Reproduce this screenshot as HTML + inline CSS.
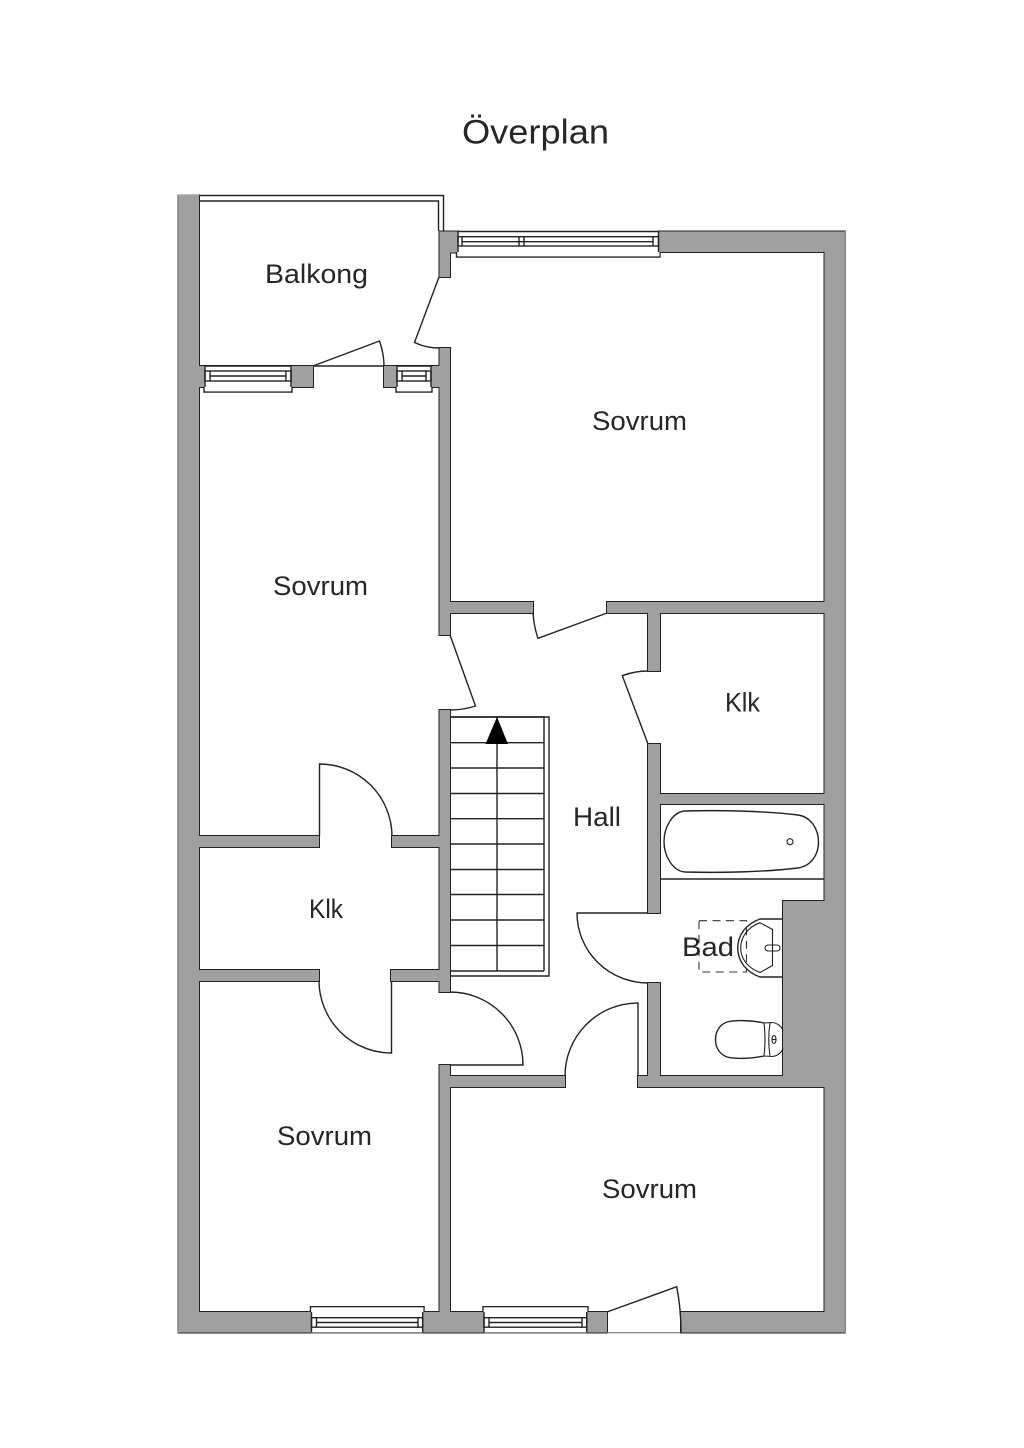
<!DOCTYPE html>
<html lang="sv">
<head>
<meta charset="utf-8">
<title>Överplan</title>
<style>
html,body{margin:0;padding:0;background:#fff;}
svg{display:block;}
text{font-family:"Liberation Sans",sans-serif;fill:#262626;font-size:27px;}
.l{fill:none;stroke:#222;stroke-width:1.4;}
.f{fill:#fff;stroke:#222;stroke-width:1.4;}
.t{fill:none;stroke:#222;stroke-width:1.1;}
</style>
</head>
<body>
<svg xmlns="http://www.w3.org/2000/svg" width="1024" height="1448" viewBox="0 0 1024 1448">
<defs>
<g id="walls">
<rect x="178.5" y="195.5" width="20.5" height="1137"/>
<rect x="178.5" y="1312" width="428.5" height="20.5"/>
<rect x="681" y="1312" width="164" height="20.5"/>
<rect x="824.5" y="231.5" width="20.5" height="1101"/>
<rect x="659" y="231.5" width="186" height="20.5"/>
<polygon points="439.5,231.5 458,231.5 458,252.5 450,252.5 450,277 439.5,277"/>
<rect x="439.5" y="348" width="10.5" height="287"/>
<rect x="439.5" y="710" width="10.5" height="282"/>
<rect x="439.5" y="1065" width="10.5" height="267.5"/>
<rect x="199" y="366" width="114" height="21"/>
<rect x="384" y="366" width="55.5" height="21"/>
<rect x="450" y="602" width="83" height="11"/>
<rect x="607" y="602" width="217.5" height="11"/>
<rect x="648" y="602" width="12" height="69"/>
<rect x="648" y="744" width="12" height="169"/>
<rect x="648" y="983" width="12" height="104"/>
<rect x="660" y="794" width="164.5" height="10"/>
<rect x="783" y="901" width="41.5" height="186"/>
<rect x="450" y="1076" width="115" height="11"/>
<rect x="638" y="1076" width="186.5" height="11"/>
<rect x="199" y="836" width="120" height="11"/>
<rect x="392" y="836" width="47.5" height="11"/>
<rect x="199" y="970" width="120" height="11"/>
<rect x="391" y="970" width="48.5" height="11"/>
</g>
</defs>

<rect width="1024" height="1448" fill="#fff"/>

<!-- balcony rail -->
<polyline class="l" points="199,195.5 443.5,195.5 443.5,231"/>
<polyline class="l" points="199,201 438.5,201 438.5,231"/>

<!-- wall outlines then fills -->
<use href="#walls" fill="#222" stroke="#222" stroke-width="2" stroke-linejoin="miter"/>
<use href="#walls" fill="#a0a0a0" stroke="none"/>

<!-- softer outer edges -->
<line x1="178" y1="194.5" x2="178" y2="1333" stroke="#858585" stroke-width="1.6"/>
<line x1="845.3" y1="231" x2="845.3" y2="1333.5" stroke="#858585" stroke-width="1.4"/>
<line x1="177.5" y1="195" x2="199" y2="195" stroke="#a8a8a8" stroke-width="1.6"/>

<!-- balcony threshold -->
<line class="l" x1="313" y1="366" x2="384" y2="366"/>

<!-- top window -->
<rect x="458" y="231.5" width="201" height="20.5" fill="#fff"/>
<polyline class="f" points="456.5,252 456.5,257 660,257 660,252" />
<rect x="457.5" y="252" width="202" height="4.3" fill="#fff"/>
<line class="l" x1="458" y1="231.5" x2="659" y2="231.5"/>
<line class="l" x1="458" y1="231.5" x2="458" y2="252"/>
<line class="l" x1="658.5" y1="231.5" x2="658.5" y2="252"/>
<rect class="l" x="458" y="236.7" width="200.5" height="9.3"/>
<line class="l" x1="462" y1="241.7" x2="653" y2="241.7"/>
<line class="l" x1="462" y1="236.7" x2="462" y2="246"/>
<line class="l" x1="653" y1="236.7" x2="653" y2="246"/>
<line class="l" x1="519" y1="236.7" x2="519" y2="246"/>
<line class="l" x1="524" y1="236.7" x2="524" y2="246"/>

<!-- balcony windows -->
<g>
<rect x="205" y="366" width="86" height="21" fill="#fff"/>
<polyline class="f" points="204,387 204,392 292,392 292,387"/>
<rect x="205" y="386" width="86" height="5.3" fill="#fff"/>
<line class="l" x1="205" y1="366" x2="291" y2="366"/>
<line class="l" x1="205" y1="366" x2="205" y2="387"/>
<line class="l" x1="291" y1="366" x2="291" y2="387"/>
<rect class="l" x="205" y="371" width="86" height="10"/>
<line class="l" x1="210" y1="376" x2="286" y2="376"/>
<line class="l" x1="210" y1="371" x2="210" y2="381"/>
<line class="l" x1="286" y1="371" x2="286" y2="381"/>
</g>
<g>
<rect x="397" y="366" width="34" height="21" fill="#fff"/>
<polyline class="f" points="396,387 396,392 432,392 432,387"/>
<rect x="397" y="386" width="34" height="5.3" fill="#fff"/>
<line class="l" x1="397" y1="366" x2="431" y2="366"/>
<line class="l" x1="397" y1="366" x2="397" y2="387"/>
<line class="l" x1="431" y1="366" x2="431" y2="387"/>
<rect class="l" x="397" y="371" width="34" height="10"/>
<line class="l" x1="402" y1="376" x2="426" y2="376"/>
<line class="l" x1="402" y1="371" x2="402" y2="381"/>
<line class="l" x1="426" y1="371" x2="426" y2="381"/>
</g>

<!-- bottom windows -->
<g>
<rect x="311.5" y="1312" width="111" height="20.5" fill="#fff"/>
<polyline class="f" points="310.5,1312 310.5,1306.7 424,1306.7 424,1312"/>
<rect x="311.3" y="1307.4" width="112" height="5.6" fill="#fff"/>
<line class="l" x1="311.5" y1="1312" x2="311.5" y2="1332.5"/>
<line class="l" x1="422.7" y1="1312" x2="422.7" y2="1332.5"/>
<rect class="l" x="311.5" y="1317.7" width="111.2" height="9.5"/>
<line class="l" x1="316.5" y1="1322.5" x2="418" y2="1322.5"/>
<line class="l" x1="316.5" y1="1317.7" x2="316.5" y2="1327.2"/>
<line class="l" x1="418" y1="1317.7" x2="418" y2="1327.2"/>
<line x1="311" y1="1332.7" x2="423" y2="1332.7" stroke="#777" stroke-width="1.2"/>
</g>
<g>
<rect x="484" y="1312" width="102.7" height="20.5" fill="#fff"/>
<polyline class="f" points="483,1312 483,1306.7 588,1306.7 588,1312"/>
<rect x="483.8" y="1307.4" width="103.4" height="5.6" fill="#fff"/>
<line class="l" x1="484" y1="1312" x2="484" y2="1332.5"/>
<line class="l" x1="586.7" y1="1312" x2="586.7" y2="1332.5"/>
<rect class="l" x="484" y="1317.7" width="102.7" height="9.5"/>
<line class="l" x1="489" y1="1322.5" x2="582" y2="1322.5"/>
<line class="l" x1="489" y1="1317.7" x2="489" y2="1327.2"/>
<line class="l" x1="582" y1="1317.7" x2="582" y2="1327.2"/>
<line x1="484" y1="1332.7" x2="587" y2="1332.7" stroke="#777" stroke-width="1.2"/>
</g>
<line x1="607" y1="1332.7" x2="681" y2="1332.7" stroke="#777" stroke-width="1.2"/>

<!-- doors -->
<g>
<path class="l" d="M439,277 L414.5,342.5 Q426,348 439,348"/>
<path class="l" d="M313,366 L379.5,341 Q384,354 384,366"/>
<path class="l" d="M607,613 L538,638.3 Q534,627 533,613"/>
<path class="l" d="M450,635 L475.5,706 Q463,710 450,710"/>
<path class="l" d="M648,744 L622.3,675.7 Q635,671 648,671"/>
<path class="l" d="M607,1312 L676.7,1286.7 Q681,1308 681,1333"/>
<path class="l" d="M319.5,836 L319.5,764 A72.5,72.5 0 0 1 392,836"/>
<path class="l" d="M391.5,981 L391.5,1053 A72.5,72.5 0 0 1 319,981"/>
<path class="l" d="M450,1065 L523,1065 A73,73 0 0 0 450,992"/>
<path class="l" d="M638,1076 L638,1003 A73,73 0 0 0 565,1076"/>
<path class="l" d="M648,913 L577,913 A71,70 0 0 0 648,983"/>
</g>

<!-- stairs -->
<g>
<polyline class="l" points="450,717 549,717 549,976 450,976"/>
<line class="l" x1="544" y1="717" x2="544" y2="971"/>
<line class="l" x1="497" y1="717" x2="497" y2="971"/>
<path class="l" d="M450,717H544M450,742.7H544M450,768H544M450,793.5H544M450,818.7H544M450,844H544M450,869.5H544M450,894.5H544M450,920H544M450,945.5H544M450,971H544"/>
</g>
<polygon points="497,717 485.5,744 508,744" fill="#000"/>

<!-- bathroom -->
<line class="l" x1="660" y1="879" x2="824" y2="879"/>
<path class="l" d="M685,811 C720,810 765,811 798,815 C811,817 818.5,829 818.5,842 C818.5,855 811,866 798,868 C765,872 720,873 685,872 C672,871 664,855 664,841.5 C664,828 672,812 685,811Z"/>
<circle class="t" cx="790" cy="841.7" r="3"/>

<rect x="699" y="920.7" width="47.5" height="51.3" fill="none" stroke="#333" stroke-width="1.1" stroke-dasharray="8 5.5"/>
<path class="l" d="M783,919 L760,919 C746,924 737.7,935 737.7,948 C737.7,961 746,972 760,977 L783,977"/>
<path class="t" d="M760,922.7 L772.5,929.5 L772.5,965.5 L760,972.5 C748,968 740.7,959 740.7,948 C740.7,937 748,927 760,922.7Z"/>
<rect class="t" x="765" y="945" width="15" height="6" rx="3"/>

<path class="l" d="M764,1023 C750,1020 735,1020 727,1022 C719,1025 715.5,1032 715.5,1039.5 C715.5,1047 719,1054 727,1057 C735,1059 750,1059 764,1056"/>
<path class="t" d="M764,1023 Q766,1039.5 764,1056 M770,1023 Q767.5,1039.5 770,1056 M764,1023 L772,1022.5 C778,1023 782,1027 783,1031 M764,1056 L772,1056.5 C778,1056 782,1052 783,1048"/>
<ellipse class="t" cx="774" cy="1039.5" rx="2" ry="4"/>
<line class="t" x1="772" y1="1039.5" x2="776" y2="1039.5"/>

<!-- labels -->
<text x="462" y="143.5" style="font-size:34px" textLength="147" lengthAdjust="spacingAndGlyphs">Överplan</text>
<text x="265" y="283" textLength="103" lengthAdjust="spacingAndGlyphs">Balkong</text>
<text x="592" y="430" textLength="95" lengthAdjust="spacingAndGlyphs">Sovrum</text>
<text x="273" y="595" textLength="95" lengthAdjust="spacingAndGlyphs">Sovrum</text>
<text x="725" y="711.5" textLength="35" lengthAdjust="spacingAndGlyphs">Klk</text>
<text x="573" y="826" textLength="48" lengthAdjust="spacingAndGlyphs">Hall</text>
<text x="309" y="918" textLength="34" lengthAdjust="spacingAndGlyphs">Klk</text>
<text x="682" y="956" textLength="52" lengthAdjust="spacingAndGlyphs">Bad</text>
<text x="277" y="1145" textLength="95" lengthAdjust="spacingAndGlyphs">Sovrum</text>
<text x="602" y="1198" textLength="95" lengthAdjust="spacingAndGlyphs">Sovrum</text>
</svg>
</body>
</html>
